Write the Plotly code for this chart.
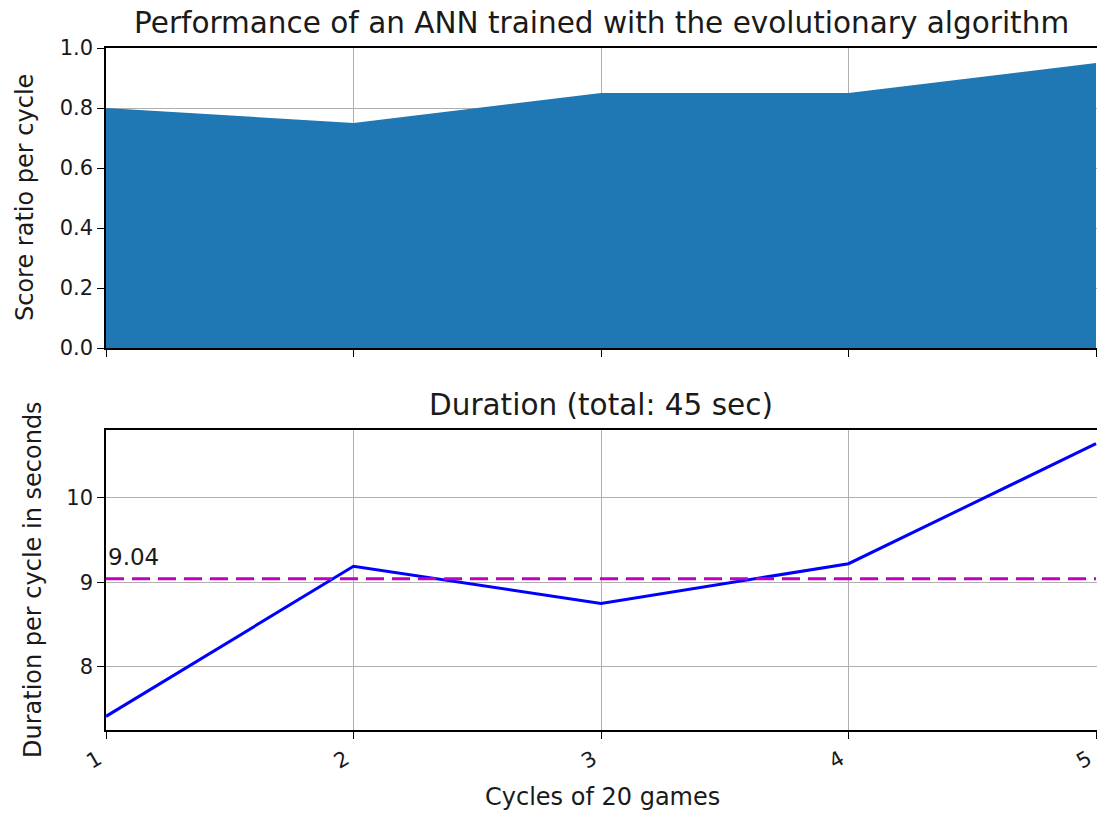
import plotly.graph_objects as go
from plotly.subplots import make_subplots

# Cycle index (each cycle = 20 games)
cycles = [1, 2, 3, 4, 5]
# Score ratio reached in each cycle
score_ratio = [0.80, 0.75, 0.85, 0.85, 0.95]
# Wall-clock duration of each cycle, in seconds
durations = [7.415, 9.19, 8.75, 9.22, 10.64]

mean_duration = sum(durations) / len(durations)
total_duration = sum(durations)

W, H = 1097, 816
ML = 106  # left margin in px
FONT = "DejaVu Sans"
GRID = "#b0b0b0"
TXT = "#1a1a1a"

fig = make_subplots(rows=2, cols=1)

fig.add_trace(go.Scatter(
    x=cycles, y=score_ratio, mode="lines", fill="tozeroy",
    line=dict(color="#1f77b4", width=0), fillcolor="#1f77b4",
    showlegend=False, hoverinfo="skip"), row=1, col=1)

fig.add_trace(go.Scatter(
    x=cycles, y=durations, mode="lines",
    line=dict(color="#0000ff", width=3),
    showlegend=False), row=2, col=1)

fig.add_trace(go.Scatter(
    x=[cycles[0], cycles[-1]], y=[mean_duration, mean_duration], mode="lines",
    line=dict(color="#bf00bf", width=3, dash="18px,8px"),
    showlegend=False, hoverinfo="skip"), row=2, col=1)


def ydom(top_px, bottom_px):
    return [1 - bottom_px / H, 1 - top_px / H]


def px_x(px):
    # pixel column -> paper x (paper spans the plot area horizontally)
    return (px - ML) / (W - ML)


tick_style = dict(
    ticks="outside", ticklen=7, tickwidth=1.3, tickcolor="black",
    showgrid=True, gridcolor=GRID, gridwidth=1.3, zeroline=False,
    layer="above traces", automargin=False,
    tickfont=dict(family=FONT, size=21, color=TXT),
)
xline = dict(showline=True, linecolor="black", linewidth=1.5, mirror=True)
yline = dict(showline=True, linecolor="black", linewidth=1.5, mirror=False)

x_range = [1, 5.004]
d_pad = 0.05 * (max(durations) - min(durations))

fig.update_layout(
    width=W, height=H,
    margin=dict(l=ML, r=0, t=0, b=0),
    paper_bgcolor="white", plot_bgcolor="white",
    font=dict(family=FONT, color=TXT),
    xaxis=dict(**tick_style, **xline, domain=[0, 1], range=x_range,
               tickvals=cycles, showticklabels=False, anchor="y"),
    yaxis=dict(**tick_style, **yline, domain=ydom(48, 348), range=[0, 1],
               tickvals=[0, 0.2, 0.4, 0.6, 0.8, 1.0], tickformat=".1f"),
    xaxis2=dict(**tick_style, **xline, domain=[0, 1], range=x_range,
                tickvals=cycles, ticktext=[str(c) for c in cycles],
                tickangle=-30, anchor="y2", ticklabeloverflow="allow",
                ticklabelshift=-8),
    yaxis2=dict(**tick_style, **yline, domain=ydom(430, 730),
                range=[min(durations) - d_pad, max(durations) + d_pad],
                tickvals=[8, 9, 10]),
)

# Titles
fig.add_annotation(
    text="Performance of an ANN trained with the evolutionary algorithm",
    xref="paper", yref="paper", x=px_x(601), y=1 - 23 / H,
    xanchor="center", yanchor="middle", showarrow=False,
    font=dict(family=FONT, size=29.5, color=TXT))

fig.add_annotation(
    text=f"Duration (total: {round(total_duration)} sec)",
    xref="paper", yref="paper", x=px_x(601), y=1 - 405 / H,
    xanchor="center", yanchor="middle", showarrow=False,
    font=dict(family=FONT, size=29.5, color=TXT))

# Axis labels
fig.add_annotation(
    text="Score ratio per cycle", textangle=-90,
    xref="paper", yref="paper", x=px_x(25), y=1 - 198 / H,
    xanchor="center", yanchor="middle", showarrow=False,
    font=dict(family=FONT, size=24, color=TXT))

fig.add_annotation(
    text="Duration per cycle in seconds", textangle=-90,
    xref="paper", yref="paper", x=px_x(33), y=1 - 580 / H,
    xanchor="center", yanchor="middle", showarrow=False,
    font=dict(family=FONT, size=24, color=TXT))

fig.add_annotation(
    text="Cycles of 20 games",
    xref="paper", yref="paper", x=px_x(602), y=1 - 797 / H,
    xanchor="center", yanchor="middle", showarrow=False,
    font=dict(family=FONT, size=24, color=TXT))

# Mean duration label
fig.add_annotation(
    text=f"{mean_duration:.2f}", xref="x2", yref="y2",
    x=cycles[0], y=mean_duration + 0.08,
    xanchor="left", yanchor="bottom", showarrow=False,
    font=dict(family=FONT, size=23, color=TXT))

fig.write_html("out.html")
